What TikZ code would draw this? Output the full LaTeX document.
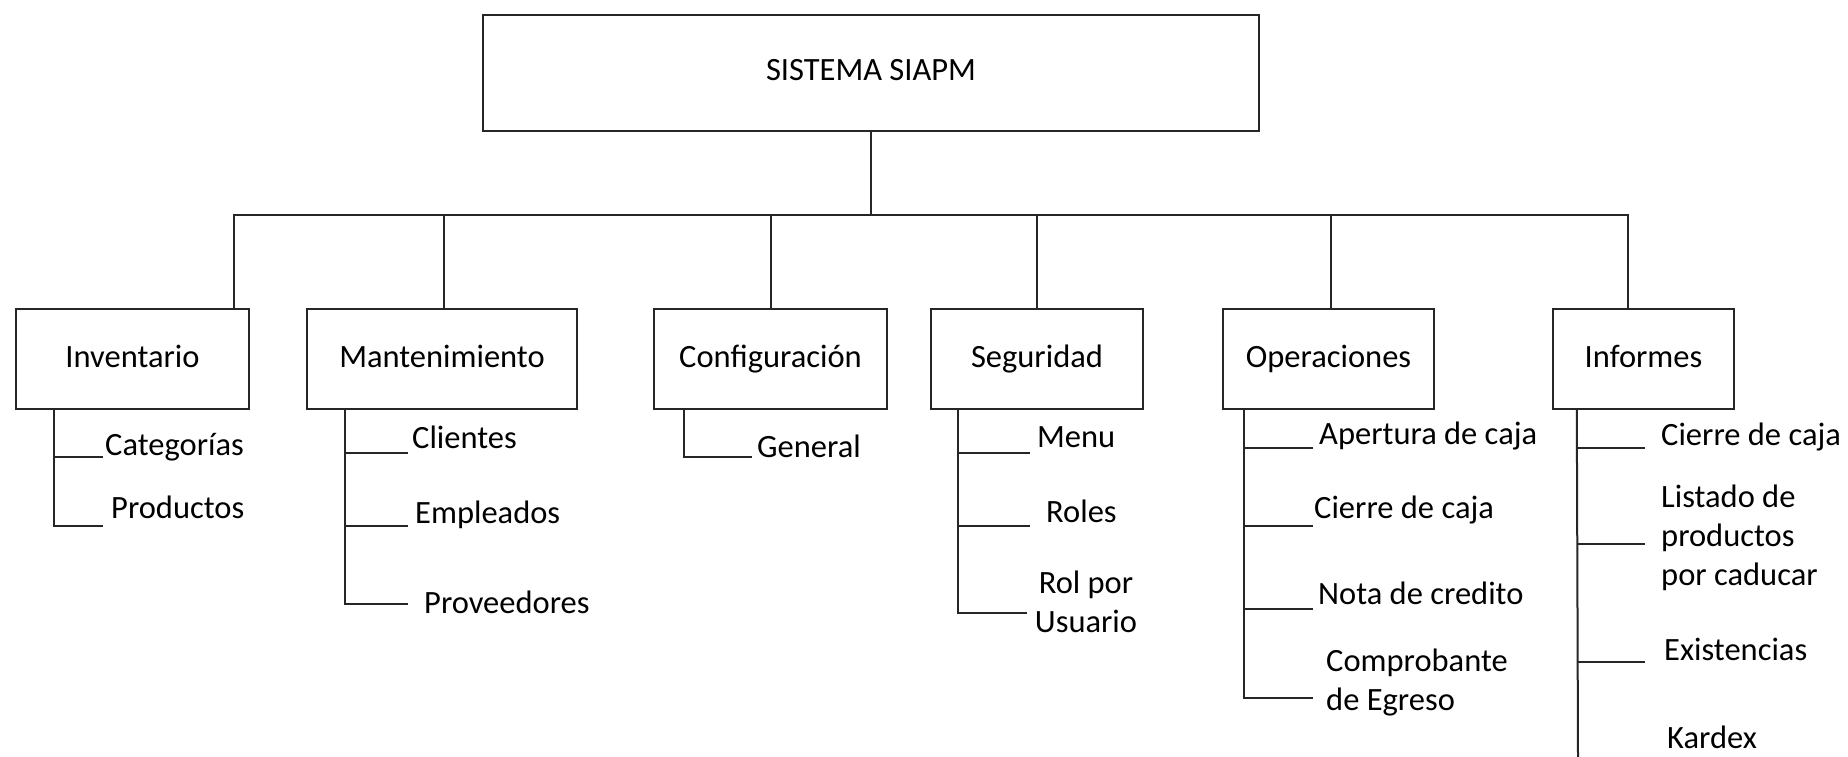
\documentclass[tikz,border=0pt]{standalone}
\usepackage{fontspec}
\setmainfont{Carlito}
\begin{document}
\begin{tikzpicture}[x=1pt,y=-1pt,
  every node/.style={font=\fontsize{32.5}{39}\selectfont, inner sep=0pt, text=black},
  box/.style={draw=black!85, line width=2.4pt, minimum width=#1, minimum height=100pt, text height=22.4pt, text depth=6.4pt},
  ln/.style={draw=black!85, line width=2pt},
  item/.style={anchor=base west}]
\useasboundingbox (0,0) rectangle (1848,757);

% top box
\node[box=776, minimum height=116pt] (top) at (871,73) {SISTEMA SIAPM};

% second level
\node[box=233] (inv)  at (132.5,359) {Inventario};
\node[box=270] (man)  at (442,359)   {Mantenimiento};
\node[box=233] (conf) at (770.5,359) {Configuración};
\node[box=212] (seg)  at (1037,359)  {Seguridad};
\node[box=211] (ope)  at (1328.5,359){Operaciones};
\node[box=181] (inf)  at (1643.5,359){Informes};

% bus
\coordinate (bus) at (871,215);
\coordinate (invD) at ([xshift=-16]inv.north east);
\coordinate (infD) at ([xshift=-15.5]inf.north);
\draw[ln] (top.south) -- (top.south |- bus);
\draw[ln] (invD) -- (invD |- bus) -- (infD |- bus) -- (infD);
\draw[ln] ([xshift=2]man.north) -- ([xshift=2]man.north |- bus);
\draw[ln] (conf.north) -- (conf.north |- bus);
\draw[ln] (seg.north) -- (seg.north |- bus);
\draw[ln] ([xshift=2.5]ope.north) -- ([xshift=2.5]ope.north |- bus);

% Inventario
\coordinate (invT) at ([xshift=39]inv.south west);
\coordinate (inv1) at (103,457);
\coordinate (inv2) at (103,526);
\draw[ln] (invT) |- (inv2);
\draw[ln] (invT |- inv1) -- (inv1);
\node[item] (categorias) at (105,455) {Categorías};
\node[item] (productos) at (111,518) {Productos};

% Mantenimiento
\coordinate (manT) at ([xshift=39]man.south west);
\coordinate (man1) at (408,453);
\coordinate (man2) at (408,526);
\coordinate (man3) at (408,604);
\draw[ln] (manT) |- (man3);
\draw[ln] (manT |- man1) -- (man1);
\draw[ln] (manT |- man2) -- (man2);
\node[item] (clientes) at (412,448) {Clientes};
\node[item] (empleados) at (415,523) {Empleados};
\node[item] (proveedores) at (424,613) {Proveedores};

% Configuracion
\coordinate (confT) at ([xshift=31]conf.south west);
\coordinate (conf1) at (752,457);
\draw[ln] (confT) |- (conf1);
\node[item] (general) at (757,457) {General};

% Seguridad
\coordinate (segT) at ([xshift=28]seg.south west);
\coordinate (seg1) at (1030,453);
\coordinate (seg2) at (1030,526);
\coordinate (seg3) at (1027,613);
\draw[ln] (segT) |- (seg3);
\draw[ln] (segT |- seg1) -- (seg1);
\draw[ln] (segT |- seg2) -- (seg2);
\node[item] (menu) at (1037,447) {Menu};
\node[item] (roles) at (1046,522) {Roles};
\node[anchor=base, align=center] (rolusuario) at (1086,632) {Rol por\\Usuario};

% Operaciones
\coordinate (opeT) at ([xshift=22]ope.south west);
\coordinate (ope1) at (1313,448);
\coordinate (ope2) at (1313,526);
\coordinate (ope3) at (1313,609);
\coordinate (ope4) at (1313,698);
\draw[ln] (opeT) |- (ope4);
\draw[ln] (opeT |- ope1) -- (ope1);
\draw[ln] (opeT |- ope2) -- (ope2);
\draw[ln] (opeT |- ope3) -- (ope3);
\node[item] (apertura) at (1319,444) {Apertura de caja};
\node[item] (cierre) at (1314,518) {Cierre de caja};
\node[item] (nota) at (1318,604) {Nota de credito};
\node[item, align=left] (comprobante) at (1326,710) {Comprobante\\de Egreso};

% Informes
\coordinate (infT) at ([xshift=25]inf.south west);
\coordinate (infEnd) at (1578,757);
\coordinate (inf1) at (1645,448);
\coordinate (inf2) at (1645,544);
\coordinate (inf3) at (1645,662);
\draw[ln] (infT) -- (infEnd);
\draw[ln] (infT |- inf1) -- (inf1);
\draw[ln] (infT |- inf2) -- (inf2);
\draw[ln] (infT |- inf3) -- (inf3);
\node[item] (cierreinf) at (1661,445) {Cierre de caja};
\node[item, align=left] (listado) at (1661,585) {Listado de\\productos\\por caducar};
\node[item] (existencias) at (1664,660) {Existencias};
\node[item] (kardex) at (1667,748) {Kardex};
\end{tikzpicture}
\end{document}
